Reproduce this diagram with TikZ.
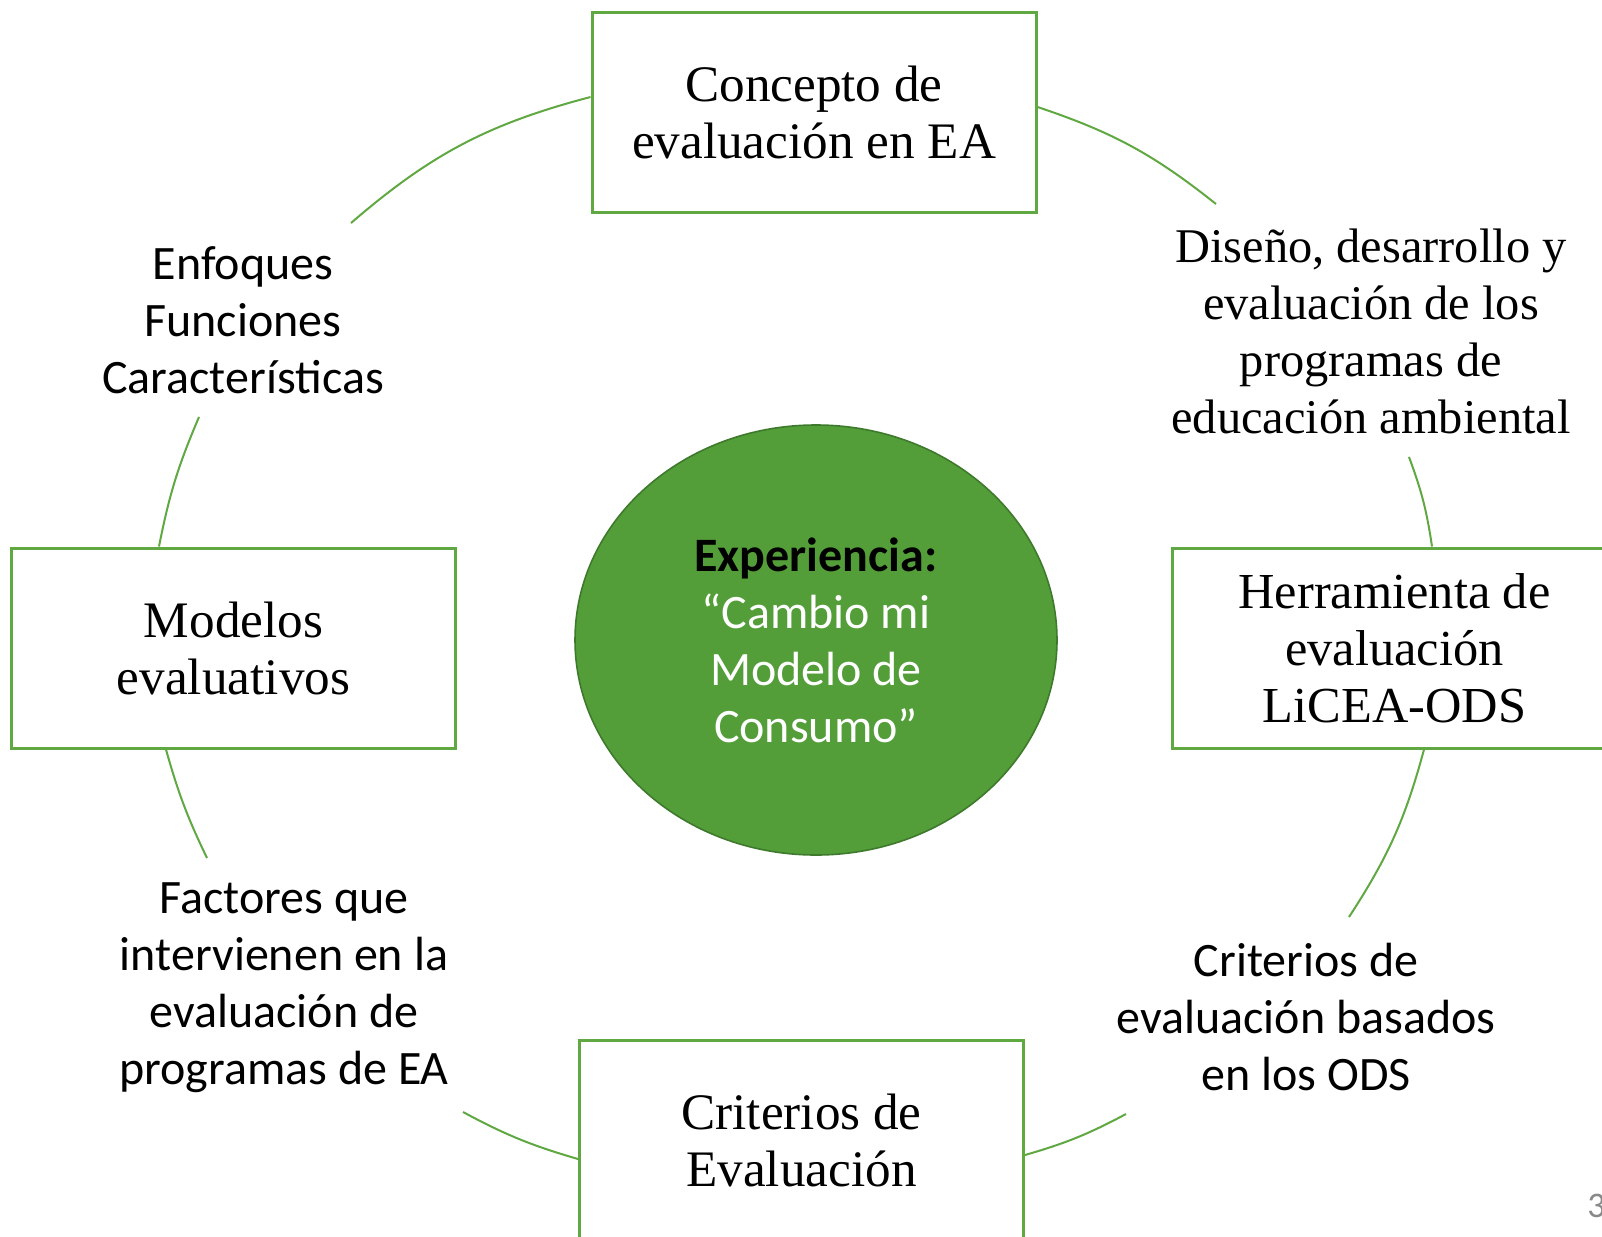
\documentclass[tikz,border=0pt]{standalone}
\usepackage{fontspec}
\setmainfont{Liberation Serif}
\newfontfamily\calib{Carlito}
\usetikzlibrary{shapes.geometric}
\definecolor{lgreen}{RGB}{96,168,66}
\definecolor{efill}{RGB}{84,158,58}
\definecolor{edraw}{RGB}{62,122,44}
\definecolor{pgray}{RGB}{137,137,137}
\tikzset{
  boxnode/.style={draw=lgreen, line width=1.5pt, minimum width=222pt, minimum height=100pt, align=center, font=\fontsize{25.6}{28.5}\selectfont, inner sep=0pt},
  sansnode/.style={align=center, font=\calib\fontsize{24}{28.5}\selectfont, inner sep=0pt},
  serifnode/.style={align=center, font=\fontsize{24.2}{28.5}\selectfont, inner sep=0pt},
  arcline/.style={draw=lgreen, line width=1pt}
}
\begin{document}
\begin{tikzpicture}[x=0.5pt,y=-0.5pt]
\useasboundingbox (0,0) rectangle (1602,1237);
\fill[white] (0,0) rectangle (1602,1237);

% boxes
\node[boxnode] (concepto) at (814,112) {Concepto de\\evaluación en EA};
\node[boxnode] (crit) at (801.5,1140) {Criterios de\\Evaluación};
\node[boxnode] (model) at (233.5,648) {Modelos\\evaluativos};
\node[boxnode, font=\fontsize{25.2}{28.5}\selectfont] (herr) at (1394.5,648) {Herramienta de\\evaluación\\LiCEA-ODS};

% central ellipse
\node[ellipse, draw=edraw, fill=efill, line width=0.8pt, minimum width=241pt, minimum height=215pt, inner sep=0pt,
      align=center, text=white, font=\calib\fontsize{24}{28.5}\selectfont] (exp) at (816,640)
  {{\color{black}\bfseries Experiencia:}\\“Cambio mi\\Modelo de\\Consumo”};

% text nodes
\node[serifnode] (dis) at (1371,331) {Diseño, desarrollo y\\evaluación de los\\programas de\\educación ambiental};
\node[sansnode] (enf) at (243,320) {Enfoques\\Funciones\\Características};
\node[sansnode] (fac) at (284,988) {Factores que\\intervienen en la\\evaluación de\\programas de EA};
\node[sansnode] (cods) at (1306,1017) {Criterios de\\evaluación basados\\en los ODS};

% page number
\node[anchor=west, text=pgray, font=\calib\fontsize{18}{20}\selectfont, inner sep=0pt] (pg) at (1587,1206) {3};

% free arc ends
\coordinate (d1) at (1216,204);
\coordinate (d2) at (1409,457);
\coordinate (d3) at (1349,917);
\coordinate (d4) at (1126,1114);
\coordinate (d5) at (463,1112);
\coordinate (d6) at (207,858);
\coordinate (d7) at (199,417);
\coordinate (d8) at (351,223);

% arcs (clockwise)
\draw[arcline] ([yshift=2.5pt]concepto.east) to[bend left=10] (d1);
\draw[arcline] (d2) to[bend left=6] ([xshift=18.75pt]herr.north);
\draw[arcline] ([xshift=14.75pt]herr.south) to[bend left=9] (d3);
\draw[arcline] (d4) to[bend left=6] ([yshift=-7.5pt]crit.east);
\draw[arcline] ([yshift=-9.5pt]crit.west) to[bend left=6] (d5);
\draw[arcline] (d6) to[bend left=5] ([xshift=-33.75pt]model.south);
\draw[arcline] ([xshift=-37.25pt]model.north) to[bend left=6] (d7);
\draw[arcline] (d8) to[bend left=13] ([yshift=7.5pt]concepto.west);
\end{tikzpicture}
\end{document}
